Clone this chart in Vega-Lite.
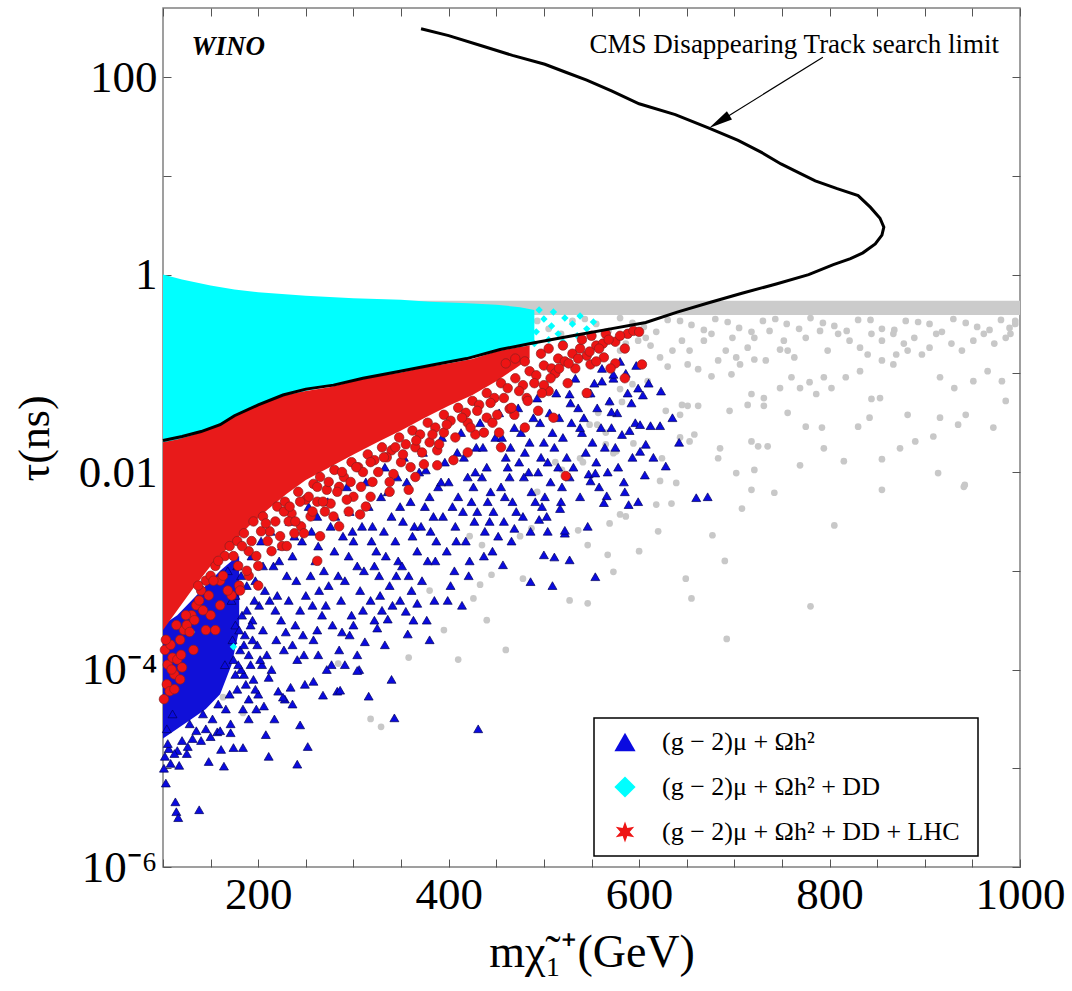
{
  "$schema": "https://vega.github.io/schema/vega-lite/v6.json",
  "autosize": "none",
  "padding": {"left": 163, "top": 8, "right": 52, "bottom": 124},
  "width": 857,
  "height": 859,
  "config": {
    "view": {"stroke": "#808080", "strokeWidth": 1.5},
    "font": "Liberation Serif",
    "legend": {"strokeWidth": 1.5}
  },
  "datasets": {
    "gband": [{"m": 330, "t": 0.543, "b": 0.389}, {"m": 1000, "t": 0.543, "b": 0.389}],
    "gray": [
      {"m":380,"t":0.355},{"m":405,"t":0.316},{"m":430,"t":0.363},{"m":455,"t":0.302},{"m":480,"t":0.347},{"m":505,"t":0.282},{"m":530,"t":0.339},{"m":555,"t":0.316},{"m":580,"t":0.363},{"m":605,"t":0.295},{"m":630,"t":0.347},{"m":655,"t":0.309},{"m":680,"t":0.355},{"m":705,"t":0.288},{"m":730,"t":0.339},{"m":755,"t":0.316},{"m":780,"t":0.363},{"m":805,"t":0.302},{"m":830,"t":0.347},{"m":855,"t":0.282},{"m":880,"t":0.339},{"m":905,"t":0.316},{"m":930,"t":0.355},{"m":955,"t":0.295},{"m":980,"t":0.347},{"m":995,"t":0.316},
      {"m":392,"t":0.282},{"m":418,"t":0.331},{"m":443,"t":0.263},{"m":468,"t":0.316},{"m":493,"t":0.339},{"m":518,"t":0.251},{"m":543,"t":0.355},{"m":568,"t":0.269},{"m":593,"t":0.324},{"m":618,"t":0.263},{"m":643,"t":0.339},{"m":668,"t":0.275},{"m":693,"t":0.331},{"m":718,"t":0.263},{"m":743,"t":0.355},{"m":768,"t":0.282},{"m":793,"t":0.324},{"m":818,"t":0.269},{"m":843,"t":0.347},{"m":868,"t":0.275},{"m":893,"t":0.331},{"m":918,"t":0.263},{"m":943,"t":0.324},{"m":968,"t":0.275},{"m":990,"t":0.251},
      {"m":607,"t":0.229},{"m":622,"t":0.145},{"m":630,"t":0.117},{"m":651,"t":0.123},{"m":662,"t":0.11},{"m":676,"t":0.0933},{"m":683,"t":0.135},{"m":697,"t":0.0977},{"m":702,"t":0.145},{"m":714,"t":0.182},{"m":721,"t":0.138},{"m":733,"t":0.135},{"m":718,"t":0.0617},{"m":714,"t":0.0479},{"m":731,"t":0.0468},{"m":748,"t":0.174},{"m":756,"t":0.17},{"m":760,"t":0.0912},{"m":748,"t":0.0708},{"m":769,"t":0.0708},{"m":779,"t":0.0813},{"m":786,"t":0.0617},{"m":794,"t":0.0912},{"m":802,"t":0.0708},{"m":817,"t":0.0912},{"m":832,"t":0.105},{"m":840,"t":0.155},{"m":855,"t":0.135},{"m":867,"t":0.123},{"m":870,"t":0.155},{"m":882,"t":0.17},{"m":897,"t":0.155},{"m":916,"t":0.0912},{"m":931,"t":0.0708},{"m":951,"t":0.0832},{"m":966,"t":0.105},{"m":981,"t":0.0832},{"m":985,"t":0.0525},{"m":972,"t":0.0282},{"m":943,"t":0.038},{"m":935,"t":0.0302},{"m":916,"t":0.0355},{"m":909,"t":0.0229},{"m":882,"t":0.038},{"m":890,"t":0.0204},{"m":874,"t":0.0174},{"m":855,"t":0.0135},{"m":853,"t":0.0562},{"m":844,"t":0.055},{"m":842,"t":0.0355},{"m":830,"t":0.0288},{"m":815,"t":0.0129},{"m":914,"t":0.00977},{"m":941,"t":0.00708},{"m":855,"t":0.00661},{"m":805,"t":0.00288},{"m":794,"t":0.0174},{"m":769,"t":0.0117},{"m":775,"t":0.0288},{"m":792,"t":0.0282},{"m":756,"t":0.0398},{"m":731,"t":0.0562},{"m":735,"t":0.0182},{"m":725,"t":0.0182},{"m":718,"t":0.0204},{"m":721,"t":0.0105},{"m":702,"t":0.00977},{"m":718,"t":0.00661},{"m":742,"t":0.00617},{"m":708,"t":0.00427},{"m":685,"t":0.0174},{"m":683,"t":0.0138},{"m":677,"t":0.00229},{"m":649,"t":0.000832},{"m":655,"t":0.000525},{"m":695,"t":0.0417},{"m":662,"t":0.0468},{"m":651,"t":0.0468},{"m":658,"t":0.024},{"m":643,"t":0.0224},{"m":639,"t":0.00776},{"m":634,"t":0.00479},{"m":618,"t":0.00468},{"m":622,"t":0.00813},{"m":643,"t":0.038},{"m":628,"t":0.0417},{"m":624,"t":0.0138},{"m":653,"t":0.0204},{"m":580,"t":0.00372},{"m":586,"t":0.00355},{"m":569,"t":0.00302},{"m":567,"t":0.00145},{"m":573,"t":0.000977},{"m":527,"t":0.000501},{"m":536,"t":0.00257},{"m":546,"t":0.00182},{"m":538,"t":0.0138},{"m":565,"t":0.0191},{"m":576,"t":0.0162},{"m":565,"t":0.0251},{"m":557,"t":0.0398},{"m":548,"t":0.0302},{"m":569,"t":0.0501},{"m":580,"t":0.0692},{"m":593,"t":0.0776},{"m":609,"t":0.0832},{"m":580,"t":0.17},{"m":586,"t":0.2},{"m":599,"t":0.214},{"m":612,"t":0.191},{"m":635,"t":0.17},{"m":645,"t":0.214},{"m":653,"t":0.17},{"m":668,"t":0.214},{"m":676,"t":0.251},{"m":691,"t":0.17},{"m":698,"t":0.229},{"m":706,"t":0.123},{"m":721,"t":0.229},{"m":737,"t":0.269},{"m":752,"t":0.214},{"m":763,"t":0.145},{"m":775,"t":0.229},{"m":790,"t":0.269},{"m":798,"t":0.17},{"m":809,"t":0.251},{"m":821,"t":0.214},{"m":832,"t":0.182},{"m":844,"t":0.251},{"m":855,"t":0.214},{"m":867,"t":0.251},{"m":878,"t":0.2},{"m":889,"t":0.229},{"m":905,"t":0.182},{"m":912,"t":0.251},{"m":928,"t":0.2},{"m":939,"t":0.17},{"m":951,"t":0.214},{"m":962,"t":0.251},{"m":973,"t":0.2},{"m":985,"t":0.229},{"m":989,"t":0.288},{"m":995,"t":0.339},
      {"m":582,"t":0.0513},{"m":573,"t":0.0155},{"m":541,"t":0.0126},{"m":512,"t":0.0126},{"m":519,"t":0.0105},{"m":493,"t":0.00631},{"m":475,"t":0.00224},{"m":487,"t":0.00269},{"m":478,"t":0.000832},{"m":445,"t":0.000912},{"m":433,"t":0.000724},{"m":426,"t":0.000525},{"m":435,"t":0.00182},{"m":422,"t":0.00224},{"m":645,"t":0.0479},{"m":556,"t":0.0302},{"m":594,"t":0.0195},
      {"m":284,"t":0.000115},{"m":358,"t":0.000132},{"m":318,"t":0.0000316},{"m":329,"t":0.0000263},{"m":163,"t":0.0000525},{"m":184,"t":0.0000363},{"m":395,"t":0.000251},{"m":410,"t":0.000126},{"m":380,"t":0.000631},{"m":440,"t":0.000316},{"m":460,"t":0.000158},{"m":692,"t":0.000204},{"m":780,"t":0.000437},{"m":942,"t":0.00741},{"m":546,"t":0.000468},{"m":600,"t":0.00158},{"m":620,"t":0.00251},{"m":690,"t":0.00126}
    ],
    "bcore": [
      {"m":100,"t":0.000282,"b":0.00002},{"m":115,"t":0.000355,"b":0.0000251},{"m":130,"t":0.000501,"b":0.0000316},{"m":145,"t":0.000708,"b":0.0000398},{"m":160,"t":0.001,"b":0.0000562},{"m":172,"t":0.00126,"b":0.000112},{"m":180,"t":0.00141,"b":0.000251}
    ],
    "blue": [
      {"m":168,"t":0.001},{"m":172,"t":0.000501},{"m":176,"t":0.000282},{"m":181,"t":0.000158},{"m":185,"t":0.0000891},{"m":170,"t":0.0000562},{"m":188,"t":0.000708},{"m":178,"t":0.00112},{"m":183,"t":0.000355},{"m":174,"t":0.000126},{"m":190,"t":0.0000501},{"m":186,"t":0.000224},
      {"m":193,"t":0.00141},{"m":197,"t":0.000794},{"m":201,"t":0.000447},{"m":205,"t":0.000251},{"m":209,"t":0.000141},{"m":195,"t":0.0000794},{"m":203,"t":0.002},{"m":207,"t":0.000631},{"m":199,"t":0.000178},{"m":206,"t":0.0000427},{"m":211,"t":0.0000832},{"m":208,"t":0.0000219},{"m":211,"t":0.0000132},{"m":194,"t":0.000316},
      {"m":213,"t":0.00251},{"m":216,"t":0.00112},{"m":220,"t":0.000562},{"m":224,"t":0.000316},{"m":227,"t":0.000158},{"m":214,"t":0.0001},{"m":221,"t":0.0000603},{"m":228,"t":0.0000501},{"m":218,"t":0.000398},{"m":225,"t":0.00178},{"m":230,"t":0.000891},{"m":229,"t":0.00024},
      {"m":233,"t":0.00316},{"m":236,"t":0.00141},{"m":240,"t":0.000794},{"m":244,"t":0.000398},{"m":247,"t":0.000224},{"m":236,"t":0.000178},{"m":241,"t":0.000126},{"m":244,"t":0.0000275},{"m":249,"t":0.0000708},{"m":234,"t":0.0000661},{"m":246,"t":0.002},{"m":250,"t":0.000562},
      {"m":253,"t":0.00447},{"m":256,"t":0.00251},{"m":260,"t":0.00126},{"m":264,"t":0.000631},{"m":267,"t":0.000355},{"m":258,"t":0.0002},{"m":252,"t":0.0000166},{"m":263,"t":0.000141},{"m":262,"t":0.00355},{"m":269,"t":0.001},{"m":258,"t":0.0000759},{"m":268,"t":0.000055},
      {"m":273,"t":0.00501},{"m":276,"t":0.00282},{"m":280,"t":0.00158},{"m":284,"t":0.000891},{"m":287,"t":0.000501},{"m":278,"t":0.000282},{"m":285,"t":0.000158},{"m":283,"t":0.0000603},{"m":274,"t":0.000708},{"m":289,"t":0.00224},{"m":281,"t":0.00355},{"m":288,"t":0.00024},
      {"m":293,"t":0.00708},{"m":296,"t":0.00398},{"m":300,"t":0.002},{"m":304,"t":0.00112},{"m":307,"t":0.000631},{"m":298,"t":0.000355},{"m":304,"t":0.000141},{"m":296,"t":0.000224},{"m":295,"t":0.00141},{"m":309,"t":0.00282},{"m":306,"t":0.0001},{"m":310,"t":0.000398},
      {"m":313,"t":0.00794},{"m":316,"t":0.00447},{"m":320,"t":0.00282},{"m":324,"t":0.00158},{"m":327,"t":0.000891},{"m":318,"t":0.000501},{"m":316,"t":0.0000537},{"m":325,"t":0.000263},{"m":312,"t":0.000191},{"m":329,"t":0.00562},{"m":322,"t":0.00112},{"m":330,"t":0.000398},
      {"m":333,"t":0.0112},{"m":336,"t":0.00631},{"m":340,"t":0.00355},{"m":344,"t":0.002},{"m":347,"t":0.00126},{"m":338,"t":0.000708},{"m":336,"t":0.000324},{"m":343,"t":0.0000324},{"m":349,"t":0.00447},{"m":341,"t":0.000447},{"m":346,"t":0.00891},{"m":332,"t":0.00251},
      {"m":353,"t":0.0141},{"m":356,"t":0.00794},{"m":360,"t":0.00501},{"m":364,"t":0.00282},{"m":367,"t":0.00158},{"m":358,"t":0.000891},{"m":355,"t":0.000389},{"m":357,"t":0.000229},{"m":367,"t":0.000468},{"m":369,"t":0.01},{"m":362,"t":0.00224},{"m":351,"t":0.00112},
      {"m":373,"t":0.0158},{"m":376,"t":0.0105},{"m":380,"t":0.00562},{"m":384,"t":0.00355},{"m":387,"t":0.002},{"m":378,"t":0.00126},{"m":385,"t":0.000501},{"m":372,"t":0.000794},{"m":389,"t":0.00708},{"m":381,"t":0.00251},{"m":375,"t":0.00447},
      {"m":393,"t":0.0224},{"m":396,"t":0.0126},{"m":400,"t":0.00794},{"m":404,"t":0.00447},{"m":407,"t":0.00282},{"m":398,"t":0.00158},{"m":406,"t":0.001},{"m":409,"t":0.0158},{"m":394,"t":0.00355},{"m":402,"t":0.000708},{"m":410,"t":0.00562},
      {"m":414,"t":0.000447},{"m":413,"t":0.0251},{"m":416,"t":0.0141},{"m":420,"t":0.00891},{"m":424,"t":0.00501},{"m":427,"t":0.00316},{"m":418,"t":0.002},{"m":429,"t":0.0178},{"m":422,"t":0.00126},{"m":431,"t":0.0000251},{"m":426,"t":0.00708},{"m":430,"t":0.00398},
      {"m":433,"t":0.0316},{"m":436,"t":0.0178},{"m":440,"t":0.0112},{"m":444,"t":0.00631},{"m":447,"t":0.00398},{"m":438,"t":0.00251},{"m":446,"t":0.00158},{"m":449,"t":0.0224},{"m":441,"t":0.00501},{"m":435,"t":0.00891},
      {"m":453,"t":0.0398},{"m":456,"t":0.0224},{"m":460,"t":0.0141},{"m":464,"t":0.00891},{"m":467,"t":0.00501},{"m":458,"t":0.00316},{"m":466,"t":0.002},{"m":469,"t":0.0282},{"m":455,"t":0.00708},{"m":462,"t":0.0112},
      {"m":473,"t":0.0447},{"m":476,"t":0.0251},{"m":480,"t":0.0158},{"m":484,"t":0.01},{"m":487,"t":0.00631},{"m":478,"t":0.00355},{"m":486,"t":0.00251},{"m":489,"t":0.0355},{"m":474,"t":0.0126},
      {"m":493,"t":0.0562},{"m":496,"t":0.0316},{"m":500,"t":0.02},{"m":504,"t":0.0126},{"m":507,"t":0.00794},{"m":498,"t":0.00447},{"m":506,"t":0.0398},{"m":509,"t":0.0251},{"m":494,"t":0.01},{"m":501,"t":0.00562},
      {"m":513,"t":0.0631},{"m":516,"t":0.0355},{"m":520,"t":0.0224},{"m":524,"t":0.0141},{"m":527,"t":0.00891},{"m":518,"t":0.00501},{"m":528,"t":0.0501},{"m":529,"t":0.0316},{"m":515,"t":0.0112},{"m":522,"t":0.0024},
      {"m":533,"t":0.0891},{"m":536,"t":0.0447},{"m":540,"t":0.0251},{"m":544,"t":0.0158},{"m":547,"t":0.00955},{"m":538,"t":0.00562},{"m":546,"t":0.0631},{"m":549,"t":0.00813},{"m":542,"t":0.0355},
      {"m":553,"t":0.0794},{"m":556,"t":0.0447},{"m":560,"t":0.0282},{"m":564,"t":0.0178},{"m":567,"t":0.01},{"m":555,"t":0.0126},{"m":566,"t":0.00575},{"m":569,"t":0.0525},{"m":561,"t":0.112},
      {"m":573,"t":0.0891},{"m":577,"t":0.0398},{"m":582,"t":0.024},{"m":588,"t":0.0631},{"m":593,"t":0.0141},{"m":597,"t":0.12},{"m":599,"t":0.0708},{"m":596,"t":0.0316},{"m":585,"t":0.00631},{"m":580,"t":0.132},{"m":590,"t":0.0263},{"m":575,"t":0.0178},{"m":586,"t":0.1},
      {"m":628,"t":0.0115},{"m":623,"t":0.0661},{"m":606,"t":0.00933},{"m":599,"t":0.00501},{"m":589,"t":0.00468},{"m":584,"t":0.00794},{"m":554,"t":0.00977},{"m":563,"t":0.0049},{"m":546,"t":0.00282},{"m":554,"t":0.000871},{"m":527,"t":0.00129},{"m":511,"t":0.00138},{"m":500,"t":0.00145},{"m":509,"t":0.000708},{"m":486,"t":0.000776},{"m":457,"t":0.00115},{"m":522,"t":0.00257},{"m":504,"t":0.00251},{"m":517,"t":0.00427},{"m":495,"t":0.00331},{"m":469,"t":0.00269},{"m":612,"t":0.0295},{"m":622,"t":0.0295},{"m":601,"t":0.0302},{"m":601,"t":0.0162},{"m":607,"t":0.0191},{"m":573,"t":0.0977},{"m":561,"t":0.0832},{"m":604,"t":0.0603},{"m":571,"t":0.0407},{"m":527,"t":0.0617},{"m":549,"t":0.0631},{"m":660,"t":0.0055},{"m":672,"t":0.00562},
      {"m":304,"t":0.0000977},{"m":286,"t":0.0000617},{"m":241,"t":0.000011},{"m":184,"t":0.0000162},{"m":174,"t":0.0000162},{"m":161,"t":0.0000155},{"m":164,"t":0.0000105},{"m":148,"t":0.0000117},{"m":117,"t":0.0000107},{"m":115,"t":0.0000151},{"m":131,"t":0.00002},{"m":103,"t":0.00000708},{"m":101,"t":0.00001},{"m":113,"t":0.00000457},{"m":114,"t":0.00000363},{"m":116,"t":0.00000316},{"m":138,"t":0.0000038},{"m":102,"t":0.0000132},{"m":157,"t":0.0000234},{"m":171,"t":0.0000229},{"m":145,"t":0.0000251},{"m":125,"t":0.0000141},{"m":108,"t":0.0000112},{"m":190,"t":0.0000316},{"m":200,"t":0.0000562},{"m":217,"t":0.0000316},{"m":236,"t":0.0000447},{"m":226,"t":0.0000525},
      {"m":120,"t":0.0000191},{"m":135,"t":0.000024},{"m":152,"t":0.0000316},{"m":166,"t":0.0000398},{"m":178,"t":0.0000631},{"m":182,"t":0.0001},{"m":190,"t":0.000141},{"m":194,"t":0.0002},{"m":196,"t":0.000501},{"m":188,"t":0.000398},{"m":180,"t":0.000251},{"m":173,"t":0.0002},{"m":165,"t":0.000112},{"m":104,"t":0.0000251},{"m":110,"t":0.0000355},{"m":106,"t":0.0000158},{"m":128,"t":0.0000282},{"m":142,"t":0.0000355},{"m":158,"t":0.0000447},{"m":176,"t":0.0000891},{"m":185,"t":0.000178},{"m":192,"t":0.000282},{"m":187,"t":0.0000708},{"m":198,"t":0.0000398},{"m":204,"t":0.000112},
      {"m":176,"t":0.000562},{"m":182,"t":0.000891},{"m":179,"t":0.000112},{"m":184,"t":0.0000398},{"m":171,"t":0.0000282},{"m":160,"t":0.000024},{"m":150,"t":0.0000209},{"m":140,"t":0.0000191},{"m":126,"t":0.0000166},{"m":112,"t":0.0000141},{"m":105,"t":0.0000178},{"m":192,"t":0.000112},{"m":197,"t":0.0000631},{"m":202,"t":0.000126},
      {"m":222,"t":0.00126},{"m":238,"t":0.00224},{"m":255,"t":0.000891},{"m":263,"t":0.00178},{"m":271,"t":0.000447},{"m":277,"t":0.000112},{"m":291,"t":0.000794},{"m":299,"t":0.00251},{"m":311,"t":0.001},{"m":319,"t":0.002},{"m":328,"t":0.000562},{"m":334,"t":0.00141},{"m":345,"t":0.000891},{"m":352,"t":0.00316},{"m":361,"t":0.000631},{"m":371,"t":0.00282},{"m":377,"t":0.000316},{"m":386,"t":0.00126},{"m":392,"t":0.00794},{"m":399,"t":0.000501},{"m":408,"t":0.002},{"m":415,"t":0.00398},{"m":421,"t":0.000891},{"m":428,"t":0.01},{"m":437,"t":0.00141},{"m":443,"t":0.00316},{"m":452,"t":0.00224},{"m":459,"t":0.00562},{"m":465,"t":0.0178},{"m":471,"t":0.00398},{"m":479,"t":0.00891},{"m":485,"t":0.02},{"m":491,"t":0.00501},{"m":497,"t":0.0141},{"m":503,"t":0.00355},{"m":511,"t":0.0178},{"m":519,"t":0.00708},{"m":531,"t":0.0112},{"m":538,"t":0.0282},{"m":551,"t":0.02},{"m":558,"t":0.00708},{"m":571,"t":0.0282},{"m":578,"t":0.0112},{"m":592,"t":0.0501},{"m":610,"t":0.0794},{"m":615,"t":0.0141},{"m":635,"t":0.0355},{"m":642,"t":0.02},{"m":205,"t":0.00112},{"m":212,"t":0.000501},{"m":219,"t":0.0002},{"m":232,"t":0.000501},{"m":239,"t":0.000282},{"m":248,"t":0.000141},{"m":257,"t":0.000447},{"m":262,"t":0.000251},{"m":272,"t":0.0001},{"m":291,"t":0.000112},{"m":300,"t":0.000282},{"m":322,"t":0.000316},{"m":333,"t":0.000178},{"m":349,"t":0.000501},{"m":363,"t":0.000316},{"m":340,"t":0.0000794},{"m":380,"t":0.0002}
    ],
    "cyanA": [
      {"m":100,"t":1.0,"b":0.0191},{"m":120,"t":0.891,"b":0.0214},{"m":150,"t":0.776,"b":0.0263},{"m":175,"t":0.708,"b":0.0355},{"m":200,"t":0.661,"b":0.0457},{"m":250,"t":0.61,"b":0.0661},{"m":300,"t":0.575,"b":0.0832},{"m":350,"t":0.556,"b":0.102},{"m":380,"t":0.531,"b":0.117},{"m":420,"t":0.513,"b":0.145},{"m":450,"t":0.495,"b":0.166},{"m":475,"t":0.468,"b":0.186},{"m":490,"t":0.437,"b":0.2}
    ],
    "cyan": [
      {"m":455,"t":0.355},{"m":462,"t":0.282},{"m":470,"t":0.316},{"m":478,"t":0.24},{"m":485,"t":0.331},{"m":492,"t":0.263},{"m":500,"t":0.355},{"m":508,"t":0.302},{"m":515,"t":0.251},{"m":522,"t":0.363},{"m":530,"t":0.316},{"m":538,"t":0.38},{"m":545,"t":0.282},{"m":552,"t":0.331},{"m":520,"t":0.209},{"m":505,"t":0.219},{"m":490,"t":0.2},{"m":475,"t":0.191},{"m":460,"t":0.209},{"m":535,"t":0.24},{"m":465,"t":0.398},{"m":480,"t":0.417},{"m":495,"t":0.437},{"m":510,"t":0.417},{"m":130,"t":0.00024},{"m":174,"t":0.00017}
    ],
    "rcore": [
      {"m":100,"t":0.02,"b":0.000251},{"m":115,"t":0.0214,"b":0.000398},{"m":130,"t":0.0234,"b":0.000631},{"m":150,"t":0.0275,"b":0.00112},{"m":170,"t":0.0347,"b":0.00178},{"m":190,"t":0.0437,"b":0.00282},{"m":210,"t":0.0525,"b":0.00417},{"m":230,"t":0.0603,"b":0.00603},{"m":250,"t":0.0661,"b":0.00832},{"m":275,"t":0.0724,"b":0.0112},{"m":300,"t":0.0832,"b":0.0151},{"m":325,"t":0.0933,"b":0.02},{"m":350,"t":0.102,"b":0.0263},{"m":375,"t":0.115,"b":0.0355},{"m":400,"t":0.126,"b":0.0468},{"m":425,"t":0.14,"b":0.0603},{"m":450,"t":0.166,"b":0.0832},{"m":470,"t":0.182,"b":0.112},{"m":485,"t":0.191,"b":0.141}
    ],
    "red": [
      {"m":102,"t":0.000158},{"m":105,"t":0.000112},{"m":108,"t":0.000178},{"m":112,"t":0.0000891},{"m":104,"t":0.0000708},{"m":110,"t":0.000132},{"m":118,"t":0.0002},{"m":115,"t":0.000126},{"m":122,"t":0.000251},{"m":101,"t":0.0000501},{"m":107,"t":0.0000603},{"m":125,"t":0.000282},{"m":130,"t":0.000355},{"m":135,"t":0.000447},{"m":128,"t":0.00024},{"m":140,"t":0.000631},{"m":145,"t":0.000794},{"m":138,"t":0.000501},{"m":150,"t":0.000891},{"m":155,"t":0.00112},{"m":160,"t":0.000794},{"m":165,"t":0.00141},{"m":170,"t":0.00178},{"m":178,"t":0.002},{"m":185,"t":0.0024},{"m":190,"t":0.00158},{"m":195,"t":0.00316},{"m":205,"t":0.00355},{"m":212,"t":0.00251},{"m":220,"t":0.00447},{"m":228,"t":0.00501},{"m":235,"t":0.0038},{"m":242,"t":0.00631},{"m":250,"t":0.00525},{"m":258,"t":0.00759},{"m":265,"t":0.00891},{"m":272,"t":0.00661},{"m":280,"t":0.0105},{"m":290,"t":0.00891},{"m":298,"t":0.0126},{"m":305,"t":0.0112},{"m":315,"t":0.0151},{"m":322,"t":0.0132},{"m":330,"t":0.0178},{"m":340,"t":0.0166},{"m":348,"t":0.0224},{"m":355,"t":0.0191},{"m":362,"t":0.0263},{"m":370,"t":0.024},{"m":378,"t":0.0316},{"m":386,"t":0.0282},{"m":395,"t":0.038},{"m":402,"t":0.0331},{"m":410,"t":0.0447},{"m":418,"t":0.0398},{"m":425,"t":0.0525},{"m":432,"t":0.0479},{"m":440,"t":0.0631},{"m":448,"t":0.0562},{"m":455,"t":0.0794},{"m":462,"t":0.0708},{"m":470,"t":0.0891},{"m":478,"t":0.0759},{"m":485,"t":0.105},{"m":492,"t":0.0955},{"m":500,"t":0.12},{"m":508,"t":0.112},{"m":515,"t":0.141},{"m":522,"t":0.132},{"m":530,"t":0.158},{"m":538,"t":0.178},{"m":545,"t":0.151},{"m":555,"t":0.191},{"m":562,"t":0.2},{"m":575,"t":0.209},{"m":588,"t":0.251},{"m":497,"t":0.158},{"m":505,"t":0.178},{"m":470,"t":0.141},{"m":460,"t":0.126},{"m":480,"t":0.132},{"m":520,"t":0.191},{"m":540,"t":0.219},{"m":550,"t":0.24},{"m":594,"t":0.269},{"m":603,"t":0.123},{"m":563,"t":0.145},{"m":549,"t":0.123},{"m":523,"t":0.00912},{"m":494,"t":0.0417},{"m":469,"t":0.038},{"m":565,"t":0.251},{"m":575,"t":0.126},{"m":525,"t":0.0794},{"m":453,"t":0.0251},{"m":440,"t":0.0355},{"m":505,"t":0.0661},{"m":380,"t":0.02},{"m":350,"t":0.0126},{"m":320,"t":0.00794},{"m":300,"t":0.00562},{"m":270,"t":0.00398},{"m":245,"t":0.00282},{"m":225,"t":0.00178},{"m":200,"t":0.00112},{"m":180,"t":0.000708},{"m":160,"t":0.000447},{"m":145,"t":0.000251},{"m":120,"t":0.000105},{"m":232,"t":0.00316},{"m":262,"t":0.00501},{"m":285,"t":0.00708},{"m":310,"t":0.01},{"m":335,"t":0.0141},{"m":365,"t":0.0178},{"m":395,"t":0.0251},{"m":420,"t":0.0316},
      {"m":210,"t":0.002},{"m":238,"t":0.0024},{"m":255,"t":0.00355},{"m":276,"t":0.00479},{"m":295,"t":0.00398},{"m":318,"t":0.00562},{"m":342,"t":0.00955},{"m":358,"t":0.00661},{"m":374,"t":0.012},{"m":388,"t":0.0166},{"m":405,"t":0.0132},{"m":428,"t":0.024},{"m":446,"t":0.0316},{"m":464,"t":0.0437},{"m":482,"t":0.0562},{"m":500,"t":0.0759},{"m":512,"t":0.1},{"m":533,"t":0.112},{"m":555,"t":0.132},{"m":585,"t":0.178},{"m":190,"t":0.000891},{"m":172,"t":0.000562},{"m":150,"t":0.000355},{"m":132,"t":0.000158},{"m":112,"t":0.0000631},{"m":265,"t":0.00224},
      {"m":103,"t":0.0002},{"m":109,"t":0.0001},{"m":114,"t":0.000282},{"m":119,"t":0.000141},{"m":124,"t":0.000355},{"m":133,"t":0.000316},{"m":137,"t":0.000708},{"m":142,"t":0.000398},{"m":148,"t":0.000562},{"m":153,"t":0.000794},{"m":158,"t":0.00126},{"m":163,"t":0.000891},{"m":168,"t":0.000631},{"m":174,"t":0.00141},{"m":179,"t":0.00112},{"m":183,"t":0.00178},{"m":188,"t":0.001},{"m":193,"t":0.002},{"m":198,"t":0.00141},{"m":203,"t":0.00251},{"m":208,"t":0.00302},{"m":214,"t":0.00158},{"m":218,"t":0.00316},{"m":223,"t":0.00224},{"m":227,"t":0.00398},{"m":233,"t":0.00447},{"m":239,"t":0.00316},{"m":244,"t":0.00501},{"m":248,"t":0.0024},{"m":253,"t":0.00562},{"m":257,"t":0.00398},{"m":262,"t":0.00708},{"m":268,"t":0.00501},{"m":274,"t":0.00794},{"m":279,"t":0.00355},{"m":283,"t":0.00631},{"m":288,"t":0.01},{"m":293,"t":0.00525},{"m":297,"t":0.00794},{"m":303,"t":0.0112},{"m":308,"t":0.00708},{"m":313,"t":0.00447},{"m":318,"t":0.0126},{"m":326,"t":0.01},{"m":332,"t":0.0141},{"m":338,"t":0.00794},{"m":344,"t":0.0178},{"m":352,"t":0.0151},{"m":360,"t":0.0112},{"m":366,"t":0.0209},{"m":372,"t":0.0158},{"m":383,"t":0.024},{"m":390,"t":0.0191},{"m":398,"t":0.0302},{"m":407,"t":0.0224},{"m":414,"t":0.0355},{"m":423,"t":0.0282},{"m":430,"t":0.0417},{"m":437,"t":0.0251},{"m":444,"t":0.0501},{"m":451,"t":0.038},{"m":458,"t":0.0562},{"m":466,"t":0.0447},{"m":474,"t":0.0661},{"m":483,"t":0.0525},{"m":490,"t":0.0794},{"m":498,"t":0.0631},{"m":507,"t":0.0891},{"m":516,"t":0.112},{"m":526,"t":0.126},{"m":536,"t":0.141},{"m":548,"t":0.166},{"m":558,"t":0.178},{"m":568,"t":0.219},{"m":580,"t":0.24},{"m":600,"t":0.263},
      {"m":307,"t":0.00372},{"m":262,"t":0.00126},{"m":181,"t":0.000631},{"m":338,"t":0.00631},{"m":388,"t":0.0117},{"m":455,"t":0.0178},{"m":510,"t":0.0355},{"m":545,"t":0.0631},{"m":230,"t":0.00178},{"m":285,"t":0.00282},{"m":365,"t":0.00891},{"m":420,"t":0.0158},{"m":480,"t":0.0282},{"m":200,"t":0.000708},{"m":155,"t":0.000251},{"m":118,"t":0.0000794},{"m":585,"t":0.0891},{"m":570,"t":0.112}
    ],
    "cms": [
      {"i":1,"m":100,"t":0.0209},{"i":2,"m":120,"t":0.0229},{"i":3,"m":140,"t":0.0257},{"i":4,"m":160,"t":0.0302},{"i":5,"m":175,"t":0.0372},{"i":6,"m":200,"t":0.0479},{"i":7,"m":226,"t":0.0603},{"i":8,"m":250,"t":0.0692},{"i":9,"m":279,"t":0.0759},{"i":10,"m":310,"t":0.0891},{"i":11,"m":349,"t":0.105},{"i":12,"m":380,"t":0.12},{"i":13,"m":419,"t":0.141},{"i":14,"m":454,"t":0.174},{"i":15,"m":490,"t":0.204},{"i":16,"m":530,"t":0.24},{"i":17,"m":570,"t":0.282},{"i":18,"m":607,"t":0.327},{"i":19,"m":640,"t":0.417},{"i":20,"m":675,"t":0.525},{"i":21,"m":708,"t":0.646},{"i":22,"m":744,"t":0.804},{"i":23,"m":778,"t":1.0},{"i":24,"m":804,"t":1.26},{"i":25,"m":822,"t":1.45},{"i":26,"m":835,"t":1.66},{"i":27,"m":848,"t":2.04},{"i":28,"m":855,"t":2.51},{"i":29,"m":857,"t":3.02},{"i":30,"m":853,"t":3.72},{"i":31,"m":843,"t":4.79},{"i":32,"m":830,"t":6.31},{"i":33,"m":808,"t":7.41},{"i":34,"m":785,"t":8.91},{"i":35,"m":768,"t":10.7},{"i":36,"m":749,"t":13.2},{"i":37,"m":728,"t":17.4},{"i":38,"m":704,"t":22.9},{"i":39,"m":674,"t":30.2},{"i":40,"m":638,"t":41.7},{"i":41,"m":600,"t":53.7},{"i":42,"m":571,"t":72.4},{"i":43,"m":545,"t":93.3},{"i":44,"m":523,"t":112},{"i":45,"m":501,"t":135},{"i":46,"m":467,"t":166},{"i":47,"m":437,"t":204},{"i":48,"m":400,"t":263},{"i":49,"m":371,"t":309}
    ],
    "arrow": [{"m":793,"t":159,"m2":684,"t2":35.3}],
    "head": [{"m":684.2,"t":35.3}],
    "wino": [{"m":130,"t":167,"txt":"WINO"}],
    "cmstext": [{"m":763,"t":176,"txt":"CMS Disappearing Track search limit"}]
  },
  "resolve": {"axis": {"x": "independent", "y": "independent"}},
  "layer": [
    {
      "data": {"name": "gband"},
      "mark": {"type": "area", "color": "#cbcbcb", "opacity": 1},
      "encoding": {
        "x": {"field": "m", "type": "quantitative",
          "scale": {"domain": [100, 1000], "nice": false, "zero": false},
          "axis": {"values": [100,150,200,250,300,350,400,450,500,550,600,650,700,750,800,850,900,950,1000],
            "labelExpr": "datum.value % 200 === 0 ? format(datum.value, 'd') : ''",
            "tickSize": -8, "tickColor": "#555555", "tickWidth": 1, "labelPadding": 13,
            "domain": false, "grid": false, "labelFont": "Liberation Serif", "labelFontSize": 45,
            "labelColor": "black", "labelFlush": false, "labelOverlap": false,
            "title": "mχ̃₁⁺(GeV)", "titleFont": "Liberation Serif", "titleFontSize": 46,
            "titleFontWeight": "normal", "titleColor": "black", "titleY": 99, "titleBaseline": "alphabetic"}},
        "y": {"field": "t", "type": "quantitative",
          "scale": {"type": "log", "domain": [0.000001, 501], "nice": false},
          "axis": {"values": [0.000001,0.00001,0.0001,0.001,0.01,0.1,1,10,100],
            "labelExpr": "['10⁻⁶','','10⁻⁴','','0.01','','1','','100'][round(log(datum.value)/LN10)+6]",
            "tickSize": -8, "tickColor": "#555555", "tickWidth": 1, "labelPadding": 14,
            "domain": false, "grid": false, "labelFont": "Liberation Serif", "labelFontSize": 45,
            "labelColor": "black", "labelFlush": false, "labelOverlap": false,
            "title": "τ(ns)", "titleFont": "Liberation Serif", "titleFontSize": 44,
            "titleFontWeight": "normal", "titleColor": "black", "titleAngle": 270,
            "titleX": -115, "titleY": 430, "titleAlign": "center", "titleBaseline": "alphabetic"}},
        "y2": {"field": "b"}
      }
    },
    {
      "data": {"name": "gray"},
      "mark": {"type": "point", "filled": true, "color": "#c8c8c8", "size": 45, "opacity": 1},
      "encoding": {
        "x": {"field": "m", "type": "quantitative", "axis": null},
        "y": {"field": "t", "type": "quantitative", "axis": null}
      }
    },
    {
      "data": {"name": "bcore"},
      "mark": {"type": "area", "color": "#1010d8", "opacity": 1},
      "encoding": {
        "x": {"field": "m", "type": "quantitative", "axis": null},
        "y": {"field": "t", "type": "quantitative", "axis": null},
        "y2": {"field": "b"}
      }
    },
    {
      "data": {"name": "blue"},
      "mark": {"type": "point", "filled": true, "size": 80, "stroke": "#00005a", "strokeWidth": 0.7, "opacity": 1},
      "encoding": {
        "x": {"field": "m", "type": "quantitative", "axis": null},
        "y": {"field": "t", "type": "quantitative", "axis": null},
        "color": {"datum": "(g − 2)μ +  Ωh²",
          "scale": {"domain": ["(g − 2)μ +  Ωh²", "(g − 2)μ +  Ωh² + DD", "(g − 2)μ +  Ωh² + DD + LHC"], "range": ["#0a0ae0", "#00ffff", "#ee1414"]},
          "legend": {"title": null, "orient": "none", "legendX": 431, "legendY": 710, "padding": 11,
            "strokeColor": "black", "fillColor": "white", "labelFont": "Liberation Serif", "labelFontSize": 26,
            "labelColor": "black", "labelLimit": 600, "symbolSize": 450, "rowPadding": 19, "labelOffset": 24,
            "symbolOffset": 7, "symbolStrokeWidth": 0}},
        "shape": {"datum": "(g − 2)μ +  Ωh²",
          "scale": {"domain": ["(g − 2)μ +  Ωh²", "(g − 2)μ +  Ωh² + DD", "(g − 2)μ +  Ωh² + DD + LHC"], "range": ["triangle-up", "diamond", "M0,-1L0.22,-0.38L0.87,-0.5L0.44,0L0.87,0.5L0.22,0.38L0,1L-0.22,0.38L-0.87,0.5L-0.44,0L-0.87,-0.5L-0.22,-0.38Z"]}}
      }
    },
    {
      "data": {"name": "cyanA"},
      "mark": {"type": "area", "color": "#00ffff", "opacity": 1},
      "encoding": {
        "x": {"field": "m", "type": "quantitative", "axis": null},
        "y": {"field": "t", "type": "quantitative", "axis": null},
        "y2": {"field": "b"}
      }
    },
    {
      "data": {"name": "cyan"},
      "mark": {"type": "point", "filled": true, "size": 55, "strokeWidth": 0, "opacity": 1},
      "encoding": {
        "x": {"field": "m", "type": "quantitative", "axis": null},
        "y": {"field": "t", "type": "quantitative", "axis": null},
        "color": {"datum": "(g − 2)μ +  Ωh² + DD"},
        "shape": {"datum": "(g − 2)μ +  Ωh² + DD"}
      }
    },
    {
      "data": {"name": "rcore"},
      "mark": {"type": "area", "color": "#e81a1a", "opacity": 1},
      "encoding": {
        "x": {"field": "m", "type": "quantitative", "axis": null},
        "y": {"field": "t", "type": "quantitative", "axis": null},
        "y2": {"field": "b"}
      }
    },
    {
      "data": {"name": "red"},
      "mark": {"type": "point", "filled": true, "shape": "circle", "size": 90, "stroke": "#8a2020", "strokeWidth": 0.7, "opacity": 1},
      "encoding": {
        "x": {"field": "m", "type": "quantitative", "axis": null},
        "y": {"field": "t", "type": "quantitative", "axis": null},
        "color": {"datum": "(g − 2)μ +  Ωh² + DD + LHC"}
      }
    },
    {
      "data": {"name": "cms"},
      "mark": {"type": "line", "color": "black", "strokeWidth": 3},
      "encoding": {
        "x": {"field": "m", "type": "quantitative", "axis": null},
        "y": {"field": "t", "type": "quantitative", "axis": null},
        "order": {"field": "i", "type": "quantitative"}
      }
    },
    {
      "data": {"name": "arrow"},
      "mark": {"type": "rule", "color": "black", "strokeWidth": 1.2},
      "encoding": {
        "x": {"field": "m", "type": "quantitative", "axis": null},
        "y": {"field": "t", "type": "quantitative", "axis": null},
        "x2": {"field": "m2"},
        "y2": {"field": "t2"}
      }
    },
    {
      "data": {"name": "head"},
      "mark": {"type": "point", "filled": true, "color": "black", "opacity": 1, "size": 576, "angle": 238,
        "shape": "M0,-1L0.4,1L-0.4,1Z"},
      "encoding": {
        "x": {"field": "m", "type": "quantitative", "axis": null},
        "y": {"field": "t", "type": "quantitative", "axis": null}
      }
    },
    {
      "data": {"name": "wino"},
      "mark": {"type": "text", "font": "Liberation Serif", "fontSize": 27, "fontWeight": "bold", "fontStyle": "italic",
        "align": "left", "baseline": "alphabetic", "color": "black"},
      "encoding": {
        "x": {"field": "m", "type": "quantitative", "axis": null},
        "y": {"field": "t", "type": "quantitative", "axis": null},
        "text": {"field": "txt"}
      }
    },
    {
      "data": {"name": "cmstext"},
      "mark": {"type": "text", "font": "Liberation Serif", "fontSize": 27, "align": "center", "baseline": "alphabetic", "color": "black"},
      "encoding": {
        "x": {"field": "m", "type": "quantitative",
          "axis": {"orient": "top", "values": [100,150,200,250,300,350,400,450,500,550,600,650,700,750,800,850,900,950,1000],
            "labels": false, "tickSize": -8, "tickColor": "#555555", "tickWidth": 1, "domain": false, "grid": false, "title": null}},
        "y": {"field": "t", "type": "quantitative",
          "axis": {"orient": "right", "values": [0.000001,0.00001,0.0001,0.001,0.01,0.1,1,10,100],
            "labels": false, "tickSize": -8, "tickColor": "#555555", "tickWidth": 1, "domain": false, "grid": false, "title": null}},
        "text": {"field": "txt"}
      }
    }
  ]
}
